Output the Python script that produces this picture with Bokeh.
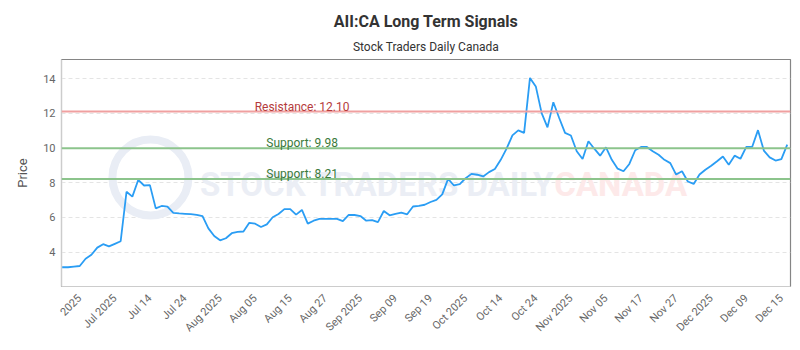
import math
from bokeh.plotting import figure
from bokeh.models import (Range1d, FixedTicker, Span, Label, Title, LinearAxis)
from bokeh.embed import file_html
from bokeh.resources import INLINE

# ---- data ----
prices = [
    3.13, 3.13, 3.17, 3.20, 3.62, 3.85, 4.26, 4.46, 4.33, 4.48,
    4.63, 7.48, 7.20, 8.16, 7.84, 7.86, 6.52, 6.66, 6.62, 6.26,
    6.23, 6.21, 6.19, 6.15, 6.07, 5.37, 4.93, 4.68, 4.80, 5.09,
    5.17, 5.19, 5.69, 5.64, 5.45, 5.60, 6.01, 6.20, 6.48, 6.48,
    6.16, 6.43, 5.64, 5.81, 5.92, 5.92, 5.92, 5.92, 5.79, 6.14,
    6.14, 6.08, 5.81, 5.85, 5.73, 6.37, 6.12, 6.20, 6.27, 6.18,
    6.63, 6.67, 6.73, 6.89, 7.01, 7.33, 8.22, 7.84, 7.92, 8.26,
    8.51, 8.46, 8.36, 8.61, 8.79, 9.32, 9.96, 10.73, 11.02, 10.87,
    14.04, 13.55, 12.01, 11.19, 12.64, 11.73, 10.87, 10.72, 9.81, 9.37,
    10.39, 9.96, 9.56, 10.04, 9.32, 8.81, 8.66, 9.08, 9.87, 10.06,
    10.06, 9.81, 9.61, 9.32, 9.13, 8.47, 8.66, 8.07, 7.93, 8.47,
    8.75, 8.98, 9.24, 9.51, 9.04, 9.56, 9.38, 10.06, 10.06, 11.03,
    9.85, 9.46, 9.28, 9.36, 10.19,
]
x_index = list(range(len(prices)))

tick_positions = [3, 9, 15, 21, 27, 33, 39, 45, 51, 57, 63, 69, 75, 81, 87,
                  93, 99, 105, 111, 117, 123]
tick_labels = ["2025", "Jul 2025", "Jul 14", "Jul 24", "Aug 2025", "Aug 05",
               "Aug 15", "Aug 27", "Sep 2025", "Sep 09", "Sep 19", "Oct 2025",
               "Oct 14", "Oct 24", "Nov 2025", "Nov 05", "Nov 17", "Nov 27",
               "Dec 2025", "Dec 09", "Dec 15"]
y_ticks = [4, 6, 8, 10, 12, 14]

resistance = 12.10
support_high = 9.98
support_low = 8.21

title_text = "AII:CA Long Term Signals"
subtitle_text = "Stock Traders Daily Canada"

FONT = "Roboto"

x0, x1 = -0.12, 124.56
y0, y1 = 2.02, 15.10

p = figure(width=800, height=350, output_backend="svg", toolbar_location=None,
           x_range=Range1d(x0, x1), y_range=Range1d(y0, y1),
           x_axis_location=None, y_axis_location=None,
           min_border_left=61, min_border_right=10, min_border_top=59,
           min_border_bottom=64, background_fill_color="white",
           border_fill_color="white")


def blank_axis(gap):
    ax = LinearAxis(ticker=FixedTicker(ticks=[]))
    ax.axis_line_color = None
    ax.major_tick_line_color = None
    ax.minor_tick_line_color = None
    ax.major_tick_out = gap
    ax.major_tick_in = 0
    ax.minor_tick_out = 0
    ax.minor_tick_in = 0
    ax.major_label_text_font_size = "0px"
    return ax


# titles: gap above the frame, then subtitle, then main title
p.add_layout(blank_axis(6), "above")
sub = Title(text=subtitle_text, align="center", text_font=FONT,
            text_font_size="12px", text_font_style="normal",
            text_color="#333333", standoff=12)
p.add_layout(sub, "above")
p.title.text = title_text
p.title.align = "center"
p.title.text_font = FONT
p.title.text_font_size = "16px"
p.title.text_font_style = "bold"
p.title.text_color = "#333333"
p.title.standoff = 1

# frame
p.outline_line_color = "#858585"
p.outline_line_width = 1.2


def style_axis(ax):
    ax.axis_line_color = "#cccccc"
    ax.axis_line_width = 1
    ax.major_tick_line_color = None
    ax.minor_tick_line_color = None
    ax.major_tick_out = 0
    ax.major_tick_in = 0
    ax.minor_tick_out = 0
    ax.minor_tick_in = 0
    ax.major_label_text_font = FONT
    ax.major_label_text_font_size = "11px"
    ax.major_label_text_color = "#666666"


# x axes: spacer next to frame, then the real (detached) axis
p.add_layout(blank_axis(11), "below")
xaxis = LinearAxis(ticker=FixedTicker(ticks=tick_positions))
style_axis(xaxis)
xaxis.major_label_overrides = {t: l for t, l in zip(tick_positions, tick_labels)}
xaxis.major_label_orientation = math.pi / 4
xaxis.major_label_standoff = 10
p.add_layout(xaxis, "below")

# y axes
p.add_layout(blank_axis(11), "left")
yaxis = LinearAxis(ticker=FixedTicker(ticks=y_ticks))
style_axis(yaxis)
yaxis.major_label_standoff = 6
yaxis.axis_label = "Price"
yaxis.axis_label_text_font = FONT
yaxis.axis_label_text_font_size = "13px"
yaxis.axis_label_text_font_style = "normal"
yaxis.axis_label_text_color = "#555555"
yaxis.axis_label_standoff = 10
p.add_layout(yaxis, "left")

# grids: no vertical grid, dashed horizontal grid at the y ticks
p.xgrid.visible = False
p.ygrid.ticker = FixedTicker(ticks=y_ticks)
p.ygrid.grid_line_color = "#e4e4e4"
p.ygrid.grid_line_dash = "4 3"


# watermark (placed as fractions of the plotting frame)
def fx(f):
    return x0 + f * (x1 - x0)


def fy(f):
    return y0 + f * (y1 - y0)


p.scatter(x=[fx(0.122)], y=[fy(0.48)], marker="circle", size=76,
          fill_color=None, line_color="#e9edf5", line_width=8)
p.add_layout(Label(x=fx(0.19), y=fy(0.45), text="STOCK TRADERS DAILY",
                   text_font=FONT, text_font_size="33px",
                   text_font_style="bold", text_color="#ebeef5",
                   text_align="left", text_baseline="alphabetic",
                   level="underlay"))
p.add_layout(Label(x=fx(0.676), y=fy(0.45), text="CANADA",
                   text_font=FONT, text_font_size="33px",
                   text_font_style="bold", text_color="#fde9e9",
                   text_align="left", text_baseline="alphabetic",
                   level="underlay"))

# support / resistance
label_x = fx(0.33)
levels = [(resistance, "Resistance: %.2f" % resistance, "#f0a0a0", "#b53b3b"),
          (support_high, "Support: %.2f" % support_high, "#8cc48c", "#3b7a3b"),
          (support_low, "Support: %.2f" % support_low, "#8cc48c", "#3b7a3b")]
for lvl, txt, lc, tc in levels:
    p.add_layout(Span(location=lvl, dimension="width", line_color=lc,
                      line_width=2))
    p.add_layout(Label(x=label_x, y=lvl, text=txt, text_font=FONT,
                       text_font_size="12px", text_color=tc,
                       text_align="center", text_baseline="alphabetic",
                       y_offset=5))

# price line
p.line(x_index, prices, line_color="#2a9df4", line_width=1.8)

open("out.html", "w").write(file_html(p, INLINE))
